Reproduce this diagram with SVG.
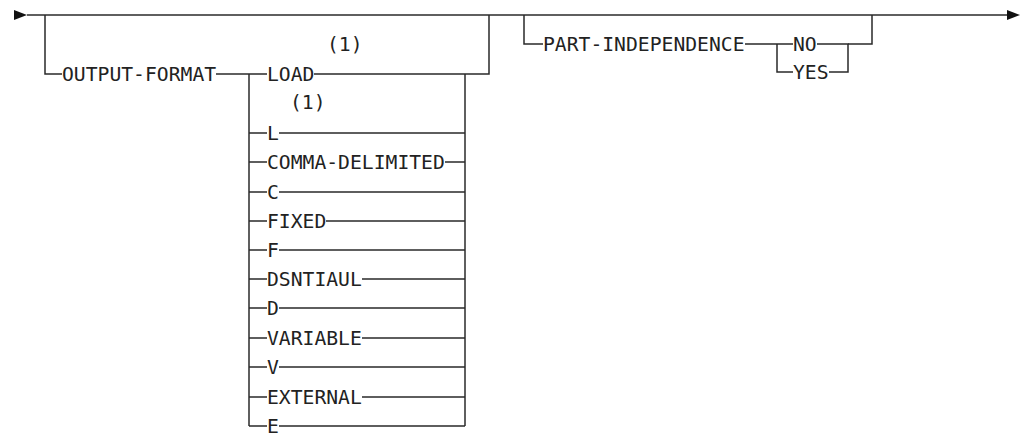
<svg xmlns="http://www.w3.org/2000/svg" width="1021" height="444" viewBox="0 0 1021 444">
<style>
.t{font-family:"DejaVu Sans Mono","Liberation Mono",monospace;font-size:19.7px;fill:#222}
.l{stroke:#2a2a2a;stroke-width:1.5;fill:none}
</style>
<rect width="1021" height="444" fill="#fff"/>
<g id="connectors" class="l">
<polygon points="14,10 27,15 14,20" fill="#111" stroke="none"/>
<polygon points="1007,10 1020,15 1007,20" fill="#111" stroke="none"/>
<path d="M27,15H1007"/>
<path d="M45,15V74H62"/>
<path d="M216,74H249"/>
<path d="M249,74V426"/>
<path d="M249,74H267M314,74H489V15"/>
<path d="M465,74V426"/>
<path d="M249,133H267M279,133H465"/>
<path d="M249,162H267M445,162H465"/>
<path d="M249,192H267M279,192H465"/>
<path d="M249,221H267M326,221H465"/>
<path d="M249,250H267M279,250H465"/>
<path d="M249,279H267M362,279H465"/>
<path d="M249,308H267M279,308H465"/>
<path d="M249,338H267M362,338H465"/>
<path d="M249,367H267M279,367H465"/>
<path d="M249,397H267M362,397H465"/>
<path d="M249,426H267M279,426H465"/>
<path d="M524,15V44H543"/>
<path d="M745,44H793M817,44H848V72H829M793,72H777V44"/>
<path d="M848,44H872V15"/>
</g>
<g id="output-format"><text class="t" x="62" y="81">OUTPUT-FORMAT</text></g>
<g id="load"><text class="t" x="327" y="51">(1)</text><text class="t" x="267" y="81">LOAD</text></g>
<g id="l"><text class="t" x="290" y="109">(1)</text><text class="t" x="267" y="140">L</text></g>
<g id="comma-delimited"><text class="t" x="267" y="169">COMMA-DELIMITED</text></g>
<g id="c"><text class="t" x="267" y="199">C</text></g>
<g id="fixed"><text class="t" x="267" y="228">FIXED</text></g>
<g id="f"><text class="t" x="267" y="257">F</text></g>
<g id="dsntiaul"><text class="t" x="267" y="286">DSNTIAUL</text></g>
<g id="d"><text class="t" x="267" y="315">D</text></g>
<g id="variable"><text class="t" x="267" y="345">VARIABLE</text></g>
<g id="v"><text class="t" x="267" y="374">V</text></g>
<g id="external"><text class="t" x="267" y="404">EXTERNAL</text></g>
<g id="e"><text class="t" x="267" y="433">E</text></g>
<g id="part-independence"><text class="t" x="543" y="51">PART-INDEPENDENCE</text></g>
<g id="no"><text class="t" x="793" y="51">NO</text></g>
<g id="yes"><text class="t" x="793" y="79">YES</text></g>
</svg>
